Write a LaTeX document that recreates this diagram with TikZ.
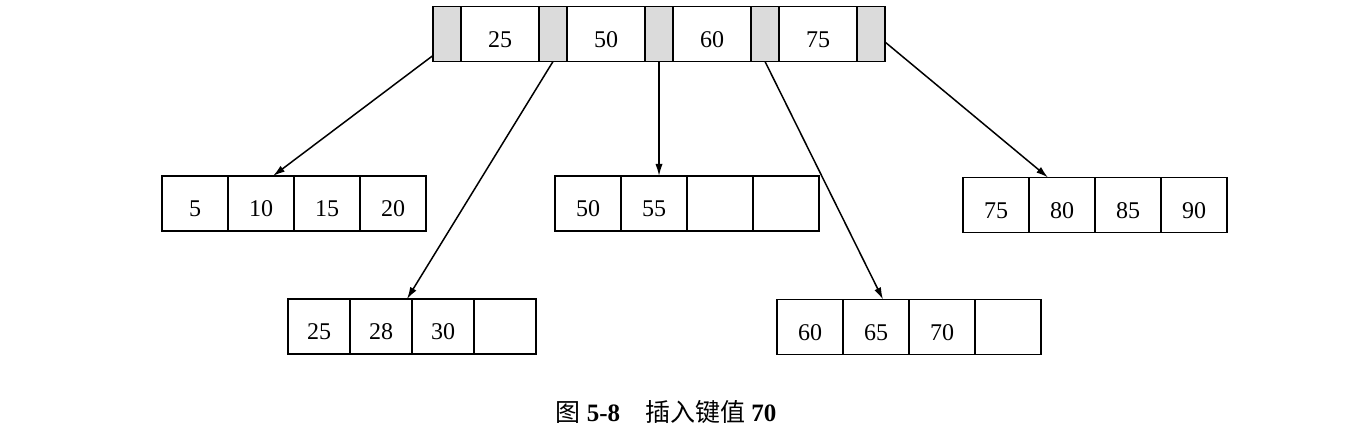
\documentclass[tikz,border=0pt]{standalone}
\usepackage{fontspec}
\setmainfont{Liberation Serif}
\newfontfamily\cjk{Noto Sans CJK SC}
\usetikzlibrary{positioning,arrows.meta}

\tikzset{
  cell/.style={draw, rectangle, line width=0.8pt, outer sep=0pt,
    inner xsep=0pt, inner ysep=0pt, minimum width=33pt, minimum height=27.5pt,
    text height=20.5pt, text depth=7pt, font=\fontsize{12}{14}\selectfont},
  ptr/.style={cell, fill=black!14, minimum width=14pt},
  key/.style={cell, minimum width=39pt},
  slim/.style={cell, minimum width=31pt}
}

\begin{document}
\begin{tikzpicture}
[
  x=0.5pt, y=-0.5pt
]
\useasboundingbox (0,0) rectangle (1359,442);

% root
\node[ptr, anchor=west] (p0) at (433,34) {};
\node[key, right=0pt of p0] (k1) {25};
\node[ptr, right=0pt of k1] (p1) {};
\node[key, right=0pt of p1] (k2) {50};
\node[ptr, right=0pt of k2] (p2) {};
\node[key, right=0pt of p2] (k3) {60};
\node[ptr, right=0pt of k3] (p3) {};
\node[key, right=0pt of p3] (k4) {75};
\node[ptr, right=0pt of k4] (p4) {};

% leaves
\node[cell, anchor=west] (l1a) at (162,203.5) {5};
\node[cell, right=0pt of l1a] (l1b) {10};
\node[cell, right=0pt of l1b] (l1c) {15};
\node[cell, right=0pt of l1c] (l1d) {20};

\node[slim, anchor=west] (l4a) at (288,326.5) {25};
\node[slim, right=0pt of l4a] (l4b) {28};
\node[slim, right=0pt of l4b] (l4c) {30};
\node[slim, right=0pt of l4c] (l4d) {};

\node[cell, anchor=west] (l2a) at (555,203.5) {50};
\node[cell, right=0pt of l2a] (l2b) {55};
\node[cell, right=0pt of l2b] (l2c) {};
\node[cell, right=0pt of l2c] (l2d) {};

\node[cell, anchor=west] (l5a) at (777,327) {60};
\node[cell, right=0pt of l5a] (l5b) {65};
\node[cell, right=0pt of l5b] (l5c) {70};
\node[cell, right=0pt of l5c] (l5d) {};

\node[cell, anchor=west] (l3a) at (963,205) {75};
\node[cell, right=0pt of l3a] (l3b) {80};
\node[cell, right=0pt of l3b] (l3c) {85};
\node[cell, right=0pt of l3c] (l3d) {90};

\path[->, >={Latex[length=6pt,width=3.6pt]}, line width=0.75pt]
  ([yshift=3pt]p0.south west) edge ([xshift=6pt]l1b.north)
  (p1.south) edge ([xshift=13pt]l4b.north)
  (p2.south) edge (p2.south |- l2b.north)
  (p3.south) edge ([xshift=3.5pt]l5b.north)
  ([yshift=-4pt]p4.east) edge ([xshift=-7pt]l3b.north);

\node[font=\fontsize{12.5}{15}\selectfont] (cap) at (666,412)
  {{\cjk 图} \textbf{5-8}\quad{\cjk 插入键值} \textbf{70}};
\end{tikzpicture}
\end{document}
